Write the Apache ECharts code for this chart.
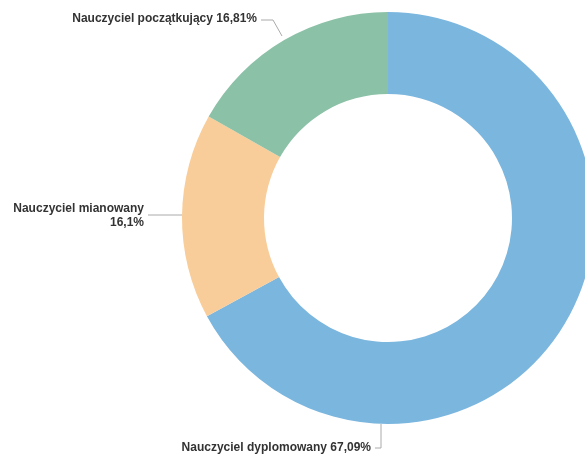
<!DOCTYPE html>
<html>
<head>
<meta charset="utf-8">
<script src="https://cdn.jsdelivr.net/npm/echarts@6/dist/echarts.min.js"></script>
<style>
  html, body { margin: 0; padding: 0; background: #fff; }
  #chart { width: 585px; height: 457px; }
</style>
</head>
<body>
<div id="chart"></div>
<script>
// dane z wykresu
const categories = ['Nauczyciel dyplomowany', 'Nauczyciel mianowany', 'Nauczyciel początkujący'];
const values = [67.09, 16.1, 16.81];
const colors = ['#7ab6de', '#f9cd99', '#8bc1a6'];

// pozycje etykiet i linii (px)
const labelPos = [
  { x: 371, y: 448, line: [[381, 424], [381, 448], [375, 448]] },
  { x: 144, y: 216, line: [[182, 215], [176, 215], [148, 215]] },
  { x: 257, y: 19, line: [[282, 36], [273, 20], [261, 20]] }
];

const myChart = echarts.init(document.getElementById('chart'));

const option = {
  animation: false,
  series: [
    {
      type: 'pie',
      center: [388, 218],
      radius: [124, 206],
      startAngle: 90,
      clockwise: true,
      avoidLabelOverlap: false,
      data: categories.map((name, i) => ({
        name: name,
        value: values[i],
        itemStyle: { color: colors[i] }
      })),
      label: {
        show: true,
        fontFamily: 'Liberation Sans, Arial, sans-serif',
        fontSize: 12,
        fontWeight: 'bold',
        color: '#333333',
        lineHeight: 14,
        formatter: function (p) {
          const pct = String(p.value).replace('.', ',') + '%';
          // mianowany w dwóch liniach
          return p.dataIndex === 1 ? p.name + '\n' + pct : p.name + ' ' + pct;
        }
      },
      labelLine: {
        show: true,
        lineStyle: { color: '#aaaaaa', width: 1 }
      },
      labelLayout: function (params) {
        const p = labelPos[params.dataIndex];
        return {
          x: p.x,
          y: p.y,
          align: 'right',
          verticalAlign: 'middle',
          labelLinePoints: p.line
        };
      }
    }
  ]
};

myChart.setOption(option);
</script>
</body>
</html>
